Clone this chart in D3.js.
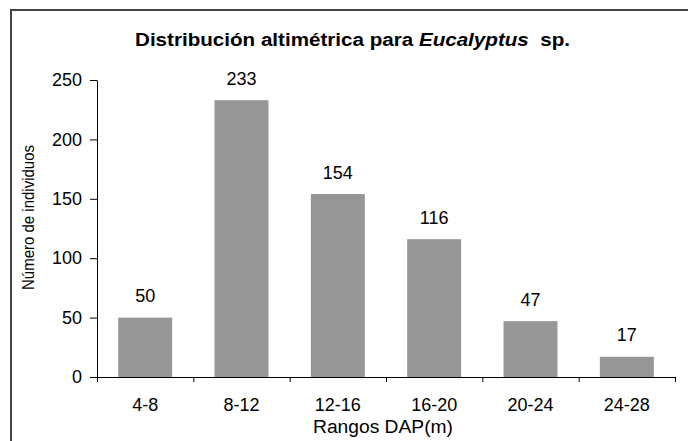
<!DOCTYPE html>
<html><head><meta charset="utf-8">
<script src="https://cdn.jsdelivr.net/npm/d3@7"></script>
<style>html,body{margin:0;padding:0;background:#fff;}svg{display:block;}</style>
</head><body>
<svg id="c" width="688" height="441"></svg>
<script>
const categories = ["4-8","8-12","12-16","16-20","20-24","24-28"];
const values = [50,233,154,116,47,17];
const yTicks = [0,50,100,150,200,250];
const titleMain = "Distribución altimétrica para ";
const titleItalic = "Eucalyptus";
const titleEnd = "  sp.";
const xTitle = "Rangos DAP(m)";
const yTitle = "Número de individuos";

const svg = d3.select("#c");
const font = "'Liberation Sans', Arial, sans-serif";
const L = 97, R = 675, T = 80, B = 377;

svg.append("rect").attr("width",688).attr("height",441).attr("fill","#fff");
// frame
svg.append("path").attr("d","M11,441V10H688").attr("fill","none").attr("stroke","#444").attr("stroke-width",2);

const x = d3.scaleBand().domain(categories).range([L,R]).paddingInner(0.44).paddingOuter(0.22);
const y = d3.scaleLinear().domain([0,250]).range([B,T]);
const xb = d3.scaleLinear().domain([0,categories.length]).range([L,R]);

// bars
svg.append("g").selectAll("rect").data(values).join("rect")
  .attr("x",(d,i)=>x(categories[i])).attr("width",x.bandwidth())
  .attr("y",d=>y(d)).attr("height",d=>y(0)-y(d)).attr("fill","#969696");

// value labels
svg.append("g").selectAll("text").data(values).join("text")
  .attr("x",(d,i)=>x(categories[i])+x.bandwidth()/2).attr("y",d=>y(d)-15.5)
  .attr("text-anchor","middle").attr("font-family",font).attr("font-size",18).attr("fill","#000")
  .text(d=>d);

// y axis
const ya = svg.append("g").attr("transform",`translate(${L},0)`)
  .call(d3.axisLeft(y).tickValues(yTicks).tickSize(7).tickPadding(8).tickSizeOuter(0));
ya.selectAll("text").attr("font-family",font).attr("font-size",18).attr("fill","#000");
ya.selectAll("line,path").attr("stroke","#000");

// x axis boundary ticks
const xa = svg.append("g").attr("transform",`translate(0,${B})`)
  .call(d3.axisBottom(xb).tickValues(d3.range(categories.length+1)).tickSize(5).tickSizeOuter(0).tickFormat(""));
xa.selectAll("line,path").attr("stroke","#000");

// x category labels
const xl = svg.append("g").attr("transform",`translate(0,${B})`)
  .call(d3.axisBottom(x).tickSize(0).tickPadding(21));
xl.select(".domain").remove();
xl.selectAll("text").attr("font-family",font).attr("font-size",18).attr("fill","#000");

// title
const t = svg.append("text").attr("x",352.5).attr("y",46).attr("text-anchor","middle")
  .attr("font-family",font).attr("font-size",18).attr("font-weight","bold")
  .attr("textLength",435).attr("lengthAdjust","spacingAndGlyphs").style("white-space","pre");
t.append("tspan").text(titleMain);
t.append("tspan").attr("font-style","italic").text(titleItalic);
t.append("tspan").text(titleEnd);

// axis titles
svg.append("text").attr("x",383).attr("y",433).attr("text-anchor","middle")
  .attr("font-family",font).attr("font-size",18).attr("textLength",140).attr("lengthAdjust","spacingAndGlyphs")
  .text(xTitle);
svg.append("text").attr("transform","translate(33.5,217.5) rotate(-90)").attr("text-anchor","middle")
  .attr("font-family",font).attr("font-size",17).attr("textLength",145).attr("lengthAdjust","spacingAndGlyphs")
  .text(yTitle);
</script>
</body></html>
